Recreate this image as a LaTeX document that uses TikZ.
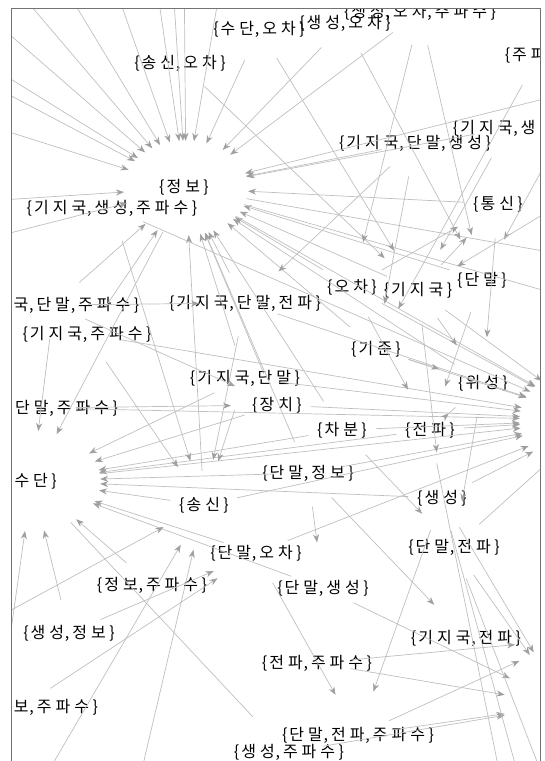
\documentclass[tikz,border=0pt]{standalone}
\usepackage{fontspec}
\usetikzlibrary{arrows.meta,shapes.geometric}
\newfontfamily\kfont{Noto Sans CJK KR}[LetterSpace=25]
\newfontfamily\pfont{Noto Sans CJK KR}
\newcommand\Ob{{\pfont\{}\kern2pt}
\newcommand\Cb{\kern3.5pt{\pfont\}}}
\newcommand\Cm{\kern0.8pt{\pfont,}\kern3pt}
\newcommand\eLL[2]{\draw[ed,shorten <=34pt,shorten >=46pt] (#1.center) -- (#2.center);}
\newcommand\eLH[2]{\draw[ed,shorten <=34pt] (#1.center) -- (#2);}
\newcommand\eOH[2]{\draw[ed] (#1) -- (#2);}
\newcommand\eLO[2]{\draw[ed,shorten <=34pt] (#1.center) -- (#2);}
\newcommand\eOL[2]{\draw[ed,shorten >=46pt] (#1) -- (#2.center);}
\begin{document}
\begin{tikzpicture}[x=1pt,y=-1pt,
  lbl/.style={font=\kfont\fontsize{16}{16}\selectfont, inner sep=0pt, text=black},
  hub/.style={ellipse, inner sep=0pt, draw=none},
  ed/.style={draw=gray!50, line width=0.7pt, -{Stealth[length=8pt,width=6pt,inset=2.5pt,color=gray!75]}},
  ln/.style={draw=gray!50, line width=0.7pt},
  frm/.style={draw=black!55, line width=1pt}]
\useasboundingbox (0,0) rectangle (544,761);
\begin{scope}
\clip (12,8) rectangle (540,761);
% hubs (invisible node extents)
\node[hub, minimum width=124pt, minimum height=94pt] (hA) at (186,188) {};
\node[hub, minimum width=136pt, minimum height=100pt] (hB) at (32,481) {};
\node[hub, minimum width=150pt, minimum height=110pt] (hC) at (595,420) {};
\node[hub, minimum width=122pt, minimum height=122pt] (hD) at (565,705) {};
\node[hub, minimum width=100pt, minimum height=100pt] (hE) at (565,640) {};
% labels
\node[lbl] (sgoju) at (420,12) {\Ob 생성\Cm 오차\Cm 주파수\Cb};
\node[lbl] (sdoc) at (259,29) {\Ob 수단\Cm 오차\Cb};
\node[lbl] (sgoc) at (345,23) {\Ob 생성\Cm 오차\Cb};
\node[lbl] (ssoc) at (180,63) {\Ob 송신\Cm 오차\Cb};
\node[lbl] (jupa) at (539,55) {\Ob 주파수\Cb};
\node[lbl] (kjsg) at (508,128) {\Ob 기지국\Cm 생성\Cb};
\node[lbl] (kjdsg) at (415,143) {\Ob 기지국\Cm 단말\Cm 생성\Cb};
\node[lbl] (jb) at (184,187) {\Ob 정보\Cb};
\node[lbl] (kjsgju) at (112,208) {\Ob 기지국\Cm 생성\Cm 주파수\Cb};
\node[lbl] (ts) at (498,204) {\Ob 통신\Cb};
\node[lbl] (oc) at (352,287) {\Ob 오차\Cb};
\node[lbl] (kj) at (418,290) {\Ob 기지국\Cb};
\node[lbl] (dm) at (482,280) {\Ob 단말\Cb};
\node[lbl] (kjdmju) at (54,305) {\Ob 기지국\Cm 단말\Cm 주파수\Cb};
\node[lbl] (kjdmjp) at (245,303) {\Ob 기지국\Cm 단말\Cm 전파\Cb};
\node[lbl] (kjju) at (87,334) {\Ob 기지국\Cm 주파수\Cb};
\node[lbl] (kjun) at (376,349) {\Ob 기준\Cb};
\node[lbl] (kjdm) at (245,378) {\Ob 기지국\Cm 단말\Cb};
\node[lbl] (ws) at (483,383) {\Ob 위성\Cb};
\node[lbl] (ssdmju) at (42,408) {\Ob 송신\Cm 단말\Cm 주파수\Cb};
\node[lbl] (jc) at (277,405) {\Ob 장치\Cb};
\node[lbl] (cb) at (342,430) {\Ob 차분\Cb};
\node[lbl] (jp) at (430,430) {\Ob 전파\Cb};
\node[lbl] (dmjb) at (308,473) {\Ob 단말\Cm 정보\Cb};
\node[lbl] (sd) at (32,481) {\Ob 수단\Cb};
\node[lbl] (ss) at (204,505) {\Ob 송신\Cb};
\node[lbl] (sg) at (442,498) {\Ob 생성\Cb};
\node[lbl] (dmoc) at (256,553) {\Ob 단말\Cm 오차\Cb};
\node[lbl] (dmjp) at (454,547) {\Ob 단말\Cm 전파\Cb};
\node[lbl] (jbju) at (152,585) {\Ob 정보\Cm 주파수\Cb};
\node[lbl] (dmsg) at (323,588) {\Ob 단말\Cm 생성\Cb};
\node[lbl] (sgjb) at (69,633) {\Ob 생성\Cm 정보\Cb};
\node[lbl] (kjjp) at (466,638) {\Ob 기지국\Cm 전파\Cb};
\node[lbl] (jpju) at (317,663) {\Ob 전파\Cm 주파수\Cb};
\node[lbl] (ssjbju) at (22,707) {\Ob 송신\Cm 정보\Cm 주파수\Cb};
\node[lbl] (dmjpju) at (358,735) {\Ob 단말\Cm 전파\Cm 주파수\Cb};
\node[lbl] (sgju) at (289,752) {\Ob 생성\Cm 주파수\Cb};
% off-frame ends
\coordinate (o1) at (-76,-40);
\coordinate (o2) at (-76,25);
\coordinate (o3) at (-76,50);
\coordinate (o4) at (-76,105);
\coordinate (o5) at (-14,-47);
\coordinate (o6) at (44,-47);
\coordinate (o7) at (103,-47);
\coordinate (o8) at (152,-47);
\coordinate (o9) at (171,-47);
\coordinate (o10) at (184,-47);
\coordinate (o11) at (226,-47);
\coordinate (o12) at (-76,205);
\coordinate (o13) at (-76,255);
\coordinate (o14) at (580,90);
\coordinate (o15) at (-10,780);
\coordinate (o16) at (580,100);
\coordinate (o17) at (20,820);
\coordinate (o18) at (130,820);
\coordinate (o19) at (505,800);
\coordinate (o20) at (525,800);
\coordinate (o21) at (548,790);
\coordinate (o22) at (253,717);
\coordinate (o23) at (600,180);
\coordinate (o25) at (640,268);
\coordinate (o26) at (640,318);
\coordinate (o27) at (-40,638);
% into hub A
\foreach \o in {o1,o2,o3,o4,o5,o6,o7,o8,o9,o10,o11,o12,o13,o14} {\eOH{\o}{hA}}
\foreach \s in {sdoc,sgoc,sgoju,kjdmju,ss,kjdm,jc,cb,kjun,oc,kjdmjp,ts,kjdsg,dm,kj,ws,kjju,dmjb,kjsg} {\eLH{\s}{hA}}
% into hub B
\eOH{hA}{hB}
\eOH{o15}{hB}
\foreach \s in {kjdmju,kjdm,jc,cb,dmjb,ss,dmoc,jbju,dmsg,sgjb,jp,sg} {\eLH{\s}{hB}}
% into hub C
\eOH{hB}{hC}
\eOH{hA}{hC}
\foreach \s in {kjdmjp,kjdm,jc,cb,kjun,oc,kjju,ssdmju,dmjb,ss,dmoc,jp,sg,kj,ws,dmjp,kjsgju} {\eLH{\s}{hC}}
% into hubs D, E
\foreach \s in {jpju,dmjpju,sgju,dmsg,dmjp,sg} {\eLH{\s}{hD}}
\eLH{jpju}{hE}
\eLH{dmjpju}{hE}
% out of hub A to the right
\eOH{hA}{o25}
\eOH{hA}{o26}
% between labels
\eLL{sdoc}{kj}
\eLL{ssoc}{kj}
\eLL{sgoju}{oc}
\eLL{sgoju}{dm}
\eLL{sgoc}{dm}
\eLL{jupa}{kjun}
\eOL{o16}{dm}
\eLL{kj}{ts}
\eLL{oc}{ts}
\eLL{kjun}{ws}
\eLL{kj}{ws}
\eOL{o17}{ss}
\eOL{o18}{ss}
\eOL{o27}{ss}
\eLL{sgjb}{dmoc}
\eLL{ssjbju}{dmoc}
\eLL{sg}{dmjpju}
\eLL{dmoc}{dmjpju}
\eLL{dmjb}{kjjp}
\eLL{kjju}{ss}
\eLL{kjdm}{ss}
\eLL{kjdmjp}{ss}
\eLL{kjsgju}{ss}
\eLL{ssdmju}{jc}
\eLL{kjdmju}{jc}
\eLL{cb}{dmjp}
\eLL{dmjb}{dmsg}
\eLL{ws}{dmjp}
\eLL{jp}{ws}
\eLL{kjdsg}{kjun}
\eOL{o23}{kj}
\eLL{kjdmju}{kjdmjp}
\eLL{kjdsg}{kjdmjp}
\eLL{kjsg}{kj}
\eLL{ts}{ws}
\eLL{dm}{jp}
\eLL{kj}{sg}
\eLL{oc}{jp}
\eLO{jp}{o19}
\eLO{sg}{o20}
\eLO{dmjp}{o21}
\draw[ln] (hB) -- (o22);
\end{scope}
% frame
\draw[frm] (11.5,761) -- (11.5,8) -- (540,8) -- (540,761);
\end{tikzpicture}
\end{document}
